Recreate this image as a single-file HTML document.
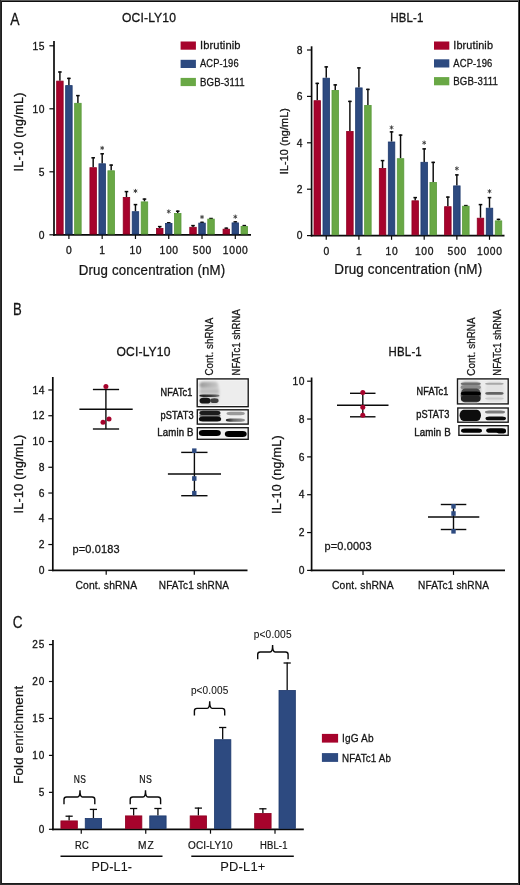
<!DOCTYPE html>
<html><head><meta charset="utf-8"><title>Figure</title>
<style>
html,body{margin:0;padding:0;background:#fff;}
body{width:520px;height:885px;overflow:hidden;position:relative;font-family:"Liberation Sans",sans-serif;}
svg{position:absolute;left:0;top:0;display:block;will-change:transform;}
text{stroke:#161616;vector-effect:non-scaling-stroke;}
</style></head>
<body>
<svg width="520" height="885" viewBox="0 0 520 885" font-family="Liberation Sans, sans-serif" fill="#141414">
<rect x="0" y="0" width="520" height="885" fill="#ffffff"/>
<text transform="translate(10.2,25) scale(0.82,1)" font-size="17" stroke-width="0.24" textLength="11.57" lengthAdjust="spacing">A</text>
<text transform="translate(122,22.2) scale(0.96,1)" font-size="12.6" stroke-width="0.3" textLength="56.21" lengthAdjust="spacing">OCI-LY10</text>
<text transform="translate(390.5,22.2) scale(0.9,1)" font-size="12.6" stroke-width="0.3" textLength="36.44" lengthAdjust="spacing">HBL-1</text>
<line x1="54" y1="41" x2="54" y2="235.65" stroke="#0a0a0a" stroke-width="1.7"/>
<line x1="53.15" y1="234.8" x2="251" y2="234.8" stroke="#0a0a0a" stroke-width="1.7"/>
<line x1="49.4" y1="234.8" x2="54" y2="234.8" stroke="#0a0a0a" stroke-width="1.2"/>
<text transform="translate(45.3,238.5)" font-size="10.3" stroke-width="0.3" text-anchor="end" letter-spacing="0.7">0</text>
<line x1="49.4" y1="171.8" x2="54" y2="171.8" stroke="#0a0a0a" stroke-width="1.2"/>
<text transform="translate(45.3,175.5)" font-size="10.3" stroke-width="0.3" text-anchor="end" letter-spacing="0.7">5</text>
<line x1="49.4" y1="108.8" x2="54" y2="108.8" stroke="#0a0a0a" stroke-width="1.2"/>
<text transform="translate(45.3,112.5)" font-size="10.3" stroke-width="0.3" text-anchor="end" letter-spacing="0.7">10</text>
<line x1="49.4" y1="45.8" x2="54" y2="45.8" stroke="#0a0a0a" stroke-width="1.2"/>
<text transform="translate(45.3,49.5)" font-size="10.3" stroke-width="0.3" text-anchor="end" letter-spacing="0.7">15</text>
<line x1="68.9" y1="234.8" x2="68.9" y2="239" stroke="#0a0a0a" stroke-width="1.2"/>
<text transform="translate(69.25,254.3)" font-size="10.3" stroke-width="0.3" text-anchor="middle" letter-spacing="0.7">0</text>
<line x1="102.18" y1="234.8" x2="102.18" y2="239" stroke="#0a0a0a" stroke-width="1.2"/>
<text transform="translate(102.53,254.3)" font-size="10.3" stroke-width="0.3" text-anchor="middle" letter-spacing="0.7">1</text>
<line x1="135.46" y1="234.8" x2="135.46" y2="239" stroke="#0a0a0a" stroke-width="1.2"/>
<text transform="translate(135.81,254.3)" font-size="10.3" stroke-width="0.3" text-anchor="middle" letter-spacing="0.7">10</text>
<line x1="168.74" y1="234.8" x2="168.74" y2="239" stroke="#0a0a0a" stroke-width="1.2"/>
<text transform="translate(169.09,254.3)" font-size="10.3" stroke-width="0.3" text-anchor="middle" letter-spacing="0.7">100</text>
<line x1="202.02" y1="234.8" x2="202.02" y2="239" stroke="#0a0a0a" stroke-width="1.2"/>
<text transform="translate(202.37,254.3)" font-size="10.3" stroke-width="0.3" text-anchor="middle" letter-spacing="0.7">500</text>
<line x1="235.3" y1="234.8" x2="235.3" y2="239" stroke="#0a0a0a" stroke-width="1.2"/>
<text transform="translate(235.65,254.3)" font-size="10.3" stroke-width="0.3" text-anchor="middle" letter-spacing="0.7">1000</text>
<line x1="59.9" y1="80.7" x2="59.9" y2="71.4" stroke="#0a0a0a" stroke-width="1.45"/>
<line x1="58.1" y1="72" x2="61.7" y2="72" stroke="#0a0a0a" stroke-width="1.5"/>
<rect x="56.65" y="81.1" width="6.5" height="152.9" fill="#A6032C" stroke="#8e0022" stroke-width="0.8"/>
<line x1="68.9" y1="85.2" x2="68.9" y2="77.8" stroke="#0a0a0a" stroke-width="1.45"/>
<line x1="67.1" y1="78.4" x2="70.7" y2="78.4" stroke="#0a0a0a" stroke-width="1.5"/>
<rect x="65.65" y="85.6" width="6.5" height="148.4" fill="#2D4A80" stroke="#1d386c" stroke-width="0.8"/>
<line x1="77.9" y1="102.9" x2="77.9" y2="95" stroke="#0a0a0a" stroke-width="1.45"/>
<line x1="76.1" y1="95.6" x2="79.7" y2="95.6" stroke="#0a0a0a" stroke-width="1.5"/>
<rect x="74.65" y="103.3" width="6.5" height="130.7" fill="#69A845" stroke="#58993a" stroke-width="0.8"/>
<line x1="93.18" y1="167.3" x2="93.18" y2="157.2" stroke="#0a0a0a" stroke-width="1.45"/>
<line x1="91.38" y1="157.8" x2="94.98" y2="157.8" stroke="#0a0a0a" stroke-width="1.5"/>
<rect x="89.93" y="167.7" width="6.5" height="66.3" fill="#A6032C" stroke="#8e0022" stroke-width="0.8"/>
<line x1="102.18" y1="163.4" x2="102.18" y2="153.2" stroke="#0a0a0a" stroke-width="1.45"/>
<line x1="100.38" y1="153.8" x2="103.98" y2="153.8" stroke="#0a0a0a" stroke-width="1.5"/>
<rect x="98.93" y="163.8" width="6.5" height="70.2" fill="#2D4A80" stroke="#1d386c" stroke-width="0.8"/>
<line x1="111.18" y1="170.4" x2="111.18" y2="164.5" stroke="#0a0a0a" stroke-width="1.45"/>
<line x1="109.38" y1="165.1" x2="112.98" y2="165.1" stroke="#0a0a0a" stroke-width="1.5"/>
<rect x="107.93" y="170.8" width="6.5" height="63.2" fill="#69A845" stroke="#58993a" stroke-width="0.8"/>
<g stroke="#3a3a3a" stroke-width="0.9" stroke-linecap="round"><line x1="102.18" y1="146.3" x2="102.18" y2="149.7"/><line x1="100.68" y1="147.15" x2="103.68" y2="148.85"/><line x1="100.68" y1="148.85" x2="103.68" y2="147.15"/></g>
<line x1="126.46" y1="197" x2="126.46" y2="191" stroke="#0a0a0a" stroke-width="1.45"/>
<line x1="124.66" y1="191.6" x2="128.26" y2="191.6" stroke="#0a0a0a" stroke-width="1.5"/>
<rect x="123.21" y="197.4" width="6.5" height="36.6" fill="#A6032C" stroke="#8e0022" stroke-width="0.8"/>
<line x1="135.46" y1="211.3" x2="135.46" y2="204" stroke="#0a0a0a" stroke-width="1.45"/>
<line x1="133.66" y1="204.6" x2="137.26" y2="204.6" stroke="#0a0a0a" stroke-width="1.5"/>
<rect x="132.21" y="211.7" width="6.5" height="22.3" fill="#2D4A80" stroke="#1d386c" stroke-width="0.8"/>
<line x1="144.46" y1="201.5" x2="144.46" y2="198.5" stroke="#0a0a0a" stroke-width="1.45"/>
<line x1="142.66" y1="199.1" x2="146.26" y2="199.1" stroke="#0a0a0a" stroke-width="1.5"/>
<rect x="141.21" y="201.9" width="6.5" height="32.1" fill="#69A845" stroke="#58993a" stroke-width="0.8"/>
<g stroke="#3a3a3a" stroke-width="0.9" stroke-linecap="round"><line x1="135.46" y1="189.3" x2="135.46" y2="192.7"/><line x1="133.96" y1="190.15" x2="136.96" y2="191.85"/><line x1="133.96" y1="191.85" x2="136.96" y2="190.15"/></g>
<line x1="159.74" y1="228" x2="159.74" y2="226" stroke="#0a0a0a" stroke-width="1.45"/>
<line x1="157.94" y1="226.6" x2="161.54" y2="226.6" stroke="#0a0a0a" stroke-width="1.5"/>
<rect x="156.49" y="228.4" width="6.5" height="5.6" fill="#A6032C" stroke="#8e0022" stroke-width="0.8"/>
<line x1="168.74" y1="223" x2="168.74" y2="222.2" stroke="#0a0a0a" stroke-width="1.45"/>
<line x1="166.94" y1="222.8" x2="170.54" y2="222.8" stroke="#0a0a0a" stroke-width="1.5"/>
<rect x="165.49" y="223.4" width="6.5" height="10.6" fill="#2D4A80" stroke="#1d386c" stroke-width="0.8"/>
<line x1="177.74" y1="213" x2="177.74" y2="210.6" stroke="#0a0a0a" stroke-width="1.45"/>
<line x1="175.94" y1="211.2" x2="179.54" y2="211.2" stroke="#0a0a0a" stroke-width="1.5"/>
<rect x="174.49" y="213.4" width="6.5" height="20.6" fill="#69A845" stroke="#58993a" stroke-width="0.8"/>
<g stroke="#3a3a3a" stroke-width="0.9" stroke-linecap="round"><line x1="168.74" y1="209.8" x2="168.74" y2="213.2"/><line x1="167.24" y1="210.65" x2="170.24" y2="212.35"/><line x1="167.24" y1="212.35" x2="170.24" y2="210.65"/></g>
<line x1="193.02" y1="226.9" x2="193.02" y2="225" stroke="#0a0a0a" stroke-width="1.45"/>
<line x1="191.22" y1="225.6" x2="194.82" y2="225.6" stroke="#0a0a0a" stroke-width="1.5"/>
<rect x="189.77" y="227.3" width="6.5" height="6.7" fill="#A6032C" stroke="#8e0022" stroke-width="0.8"/>
<line x1="202.02" y1="222.7" x2="202.02" y2="221.8" stroke="#0a0a0a" stroke-width="1.45"/>
<line x1="200.22" y1="222.4" x2="203.82" y2="222.4" stroke="#0a0a0a" stroke-width="1.5"/>
<rect x="198.77" y="223.1" width="6.5" height="10.9" fill="#2D4A80" stroke="#1d386c" stroke-width="0.8"/>
<line x1="211.02" y1="218.7" x2="211.02" y2="217.9" stroke="#0a0a0a" stroke-width="1.45"/>
<line x1="209.22" y1="218.5" x2="212.82" y2="218.5" stroke="#0a0a0a" stroke-width="1.5"/>
<rect x="207.77" y="219.1" width="6.5" height="14.9" fill="#69A845" stroke="#58993a" stroke-width="0.8"/>
<g stroke="#3a3a3a" stroke-width="0.9" stroke-linecap="round"><line x1="202.02" y1="215.3" x2="202.02" y2="218.7"/><line x1="200.52" y1="216.15" x2="203.52" y2="217.85"/><line x1="200.52" y1="217.85" x2="203.52" y2="216.15"/></g>
<line x1="226.3" y1="228.8" x2="226.3" y2="227.6" stroke="#0a0a0a" stroke-width="1.45"/>
<line x1="224.5" y1="228.2" x2="228.1" y2="228.2" stroke="#0a0a0a" stroke-width="1.5"/>
<rect x="223.05" y="229.2" width="6.5" height="4.8" fill="#A6032C" stroke="#8e0022" stroke-width="0.8"/>
<line x1="235.3" y1="222.5" x2="235.3" y2="221.3" stroke="#0a0a0a" stroke-width="1.45"/>
<line x1="233.5" y1="221.9" x2="237.1" y2="221.9" stroke="#0a0a0a" stroke-width="1.5"/>
<rect x="232.05" y="222.9" width="6.5" height="11.1" fill="#2D4A80" stroke="#1d386c" stroke-width="0.8"/>
<line x1="244.3" y1="226" x2="244.3" y2="225" stroke="#0a0a0a" stroke-width="1.45"/>
<line x1="242.5" y1="225.6" x2="246.1" y2="225.6" stroke="#0a0a0a" stroke-width="1.5"/>
<rect x="241.05" y="226.4" width="6.5" height="7.6" fill="#69A845" stroke="#58993a" stroke-width="0.8"/>
<g stroke="#3a3a3a" stroke-width="0.9" stroke-linecap="round"><line x1="235.3" y1="215" x2="235.3" y2="218.4"/><line x1="233.8" y1="215.85" x2="236.8" y2="217.55"/><line x1="233.8" y1="217.55" x2="236.8" y2="215.85"/></g>
<line x1="311.6" y1="46.3" x2="311.6" y2="236.45" stroke="#0a0a0a" stroke-width="1.7"/>
<line x1="310.75" y1="235.6" x2="504.5" y2="235.6" stroke="#0a0a0a" stroke-width="1.7"/>
<line x1="307" y1="235.6" x2="311.6" y2="235.6" stroke="#0a0a0a" stroke-width="1.2"/>
<text transform="translate(303.3,239.3)" font-size="10.3" stroke-width="0.3" text-anchor="end" letter-spacing="0.7">0</text>
<line x1="307" y1="189.2" x2="311.6" y2="189.2" stroke="#0a0a0a" stroke-width="1.2"/>
<text transform="translate(303.3,192.9)" font-size="10.3" stroke-width="0.3" text-anchor="end" letter-spacing="0.7">2</text>
<line x1="307" y1="142.8" x2="311.6" y2="142.8" stroke="#0a0a0a" stroke-width="1.2"/>
<text transform="translate(303.3,146.5)" font-size="10.3" stroke-width="0.3" text-anchor="end" letter-spacing="0.7">4</text>
<line x1="307" y1="96.4" x2="311.6" y2="96.4" stroke="#0a0a0a" stroke-width="1.2"/>
<text transform="translate(303.3,100.1)" font-size="10.3" stroke-width="0.3" text-anchor="end" letter-spacing="0.7">6</text>
<line x1="307" y1="50" x2="311.6" y2="50" stroke="#0a0a0a" stroke-width="1.2"/>
<text transform="translate(303.3,53.7)" font-size="10.3" stroke-width="0.3" text-anchor="end" letter-spacing="0.7">8</text>
<line x1="326.25" y1="235.6" x2="326.25" y2="239.8" stroke="#0a0a0a" stroke-width="1.2"/>
<text transform="translate(326.6,255.1)" font-size="10.3" stroke-width="0.3" text-anchor="middle" letter-spacing="0.7">0</text>
<line x1="358.9" y1="235.6" x2="358.9" y2="239.8" stroke="#0a0a0a" stroke-width="1.2"/>
<text transform="translate(359.25,255.1)" font-size="10.3" stroke-width="0.3" text-anchor="middle" letter-spacing="0.7">1</text>
<line x1="391.55" y1="235.6" x2="391.55" y2="239.8" stroke="#0a0a0a" stroke-width="1.2"/>
<text transform="translate(391.9,255.1)" font-size="10.3" stroke-width="0.3" text-anchor="middle" letter-spacing="0.7">10</text>
<line x1="424.2" y1="235.6" x2="424.2" y2="239.8" stroke="#0a0a0a" stroke-width="1.2"/>
<text transform="translate(424.55,255.1)" font-size="10.3" stroke-width="0.3" text-anchor="middle" letter-spacing="0.7">100</text>
<line x1="456.85" y1="235.6" x2="456.85" y2="239.8" stroke="#0a0a0a" stroke-width="1.2"/>
<text transform="translate(457.2,255.1)" font-size="10.3" stroke-width="0.3" text-anchor="middle" letter-spacing="0.7">500</text>
<line x1="489.5" y1="235.6" x2="489.5" y2="239.8" stroke="#0a0a0a" stroke-width="1.2"/>
<text transform="translate(489.85,255.1)" font-size="10.3" stroke-width="0.3" text-anchor="middle" letter-spacing="0.7">1000</text>
<line x1="317.25" y1="100.3" x2="317.25" y2="82.8" stroke="#0a0a0a" stroke-width="1.45"/>
<line x1="315.45" y1="83.4" x2="319.05" y2="83.4" stroke="#0a0a0a" stroke-width="1.5"/>
<rect x="314" y="100.7" width="6.5" height="134.1" fill="#A6032C" stroke="#8e0022" stroke-width="0.8"/>
<line x1="326.25" y1="77.8" x2="326.25" y2="66.3" stroke="#0a0a0a" stroke-width="1.45"/>
<line x1="324.45" y1="66.9" x2="328.05" y2="66.9" stroke="#0a0a0a" stroke-width="1.5"/>
<rect x="323" y="78.2" width="6.5" height="156.6" fill="#2D4A80" stroke="#1d386c" stroke-width="0.8"/>
<line x1="335.25" y1="90" x2="335.25" y2="84.3" stroke="#0a0a0a" stroke-width="1.45"/>
<line x1="333.45" y1="84.9" x2="337.05" y2="84.9" stroke="#0a0a0a" stroke-width="1.5"/>
<rect x="332" y="90.4" width="6.5" height="144.4" fill="#69A845" stroke="#58993a" stroke-width="0.8"/>
<line x1="349.9" y1="131" x2="349.9" y2="100.8" stroke="#0a0a0a" stroke-width="1.45"/>
<line x1="348.1" y1="101.4" x2="351.7" y2="101.4" stroke="#0a0a0a" stroke-width="1.5"/>
<rect x="346.65" y="131.4" width="6.5" height="103.4" fill="#A6032C" stroke="#8e0022" stroke-width="0.8"/>
<line x1="358.9" y1="87.5" x2="358.9" y2="67.3" stroke="#0a0a0a" stroke-width="1.45"/>
<line x1="357.1" y1="67.9" x2="360.7" y2="67.9" stroke="#0a0a0a" stroke-width="1.5"/>
<rect x="355.65" y="87.9" width="6.5" height="146.9" fill="#2D4A80" stroke="#1d386c" stroke-width="0.8"/>
<line x1="367.9" y1="105" x2="367.9" y2="88.8" stroke="#0a0a0a" stroke-width="1.45"/>
<line x1="366.1" y1="89.4" x2="369.7" y2="89.4" stroke="#0a0a0a" stroke-width="1.5"/>
<rect x="364.65" y="105.4" width="6.5" height="129.4" fill="#69A845" stroke="#58993a" stroke-width="0.8"/>
<line x1="382.55" y1="168" x2="382.55" y2="160" stroke="#0a0a0a" stroke-width="1.45"/>
<line x1="380.75" y1="160.6" x2="384.35" y2="160.6" stroke="#0a0a0a" stroke-width="1.5"/>
<rect x="379.3" y="168.4" width="6.5" height="66.4" fill="#A6032C" stroke="#8e0022" stroke-width="0.8"/>
<line x1="391.55" y1="141.6" x2="391.55" y2="131.3" stroke="#0a0a0a" stroke-width="1.45"/>
<line x1="389.75" y1="131.9" x2="393.35" y2="131.9" stroke="#0a0a0a" stroke-width="1.5"/>
<rect x="388.3" y="142" width="6.5" height="92.8" fill="#2D4A80" stroke="#1d386c" stroke-width="0.8"/>
<line x1="400.55" y1="158.3" x2="400.55" y2="134.5" stroke="#0a0a0a" stroke-width="1.45"/>
<line x1="398.75" y1="135.1" x2="402.35" y2="135.1" stroke="#0a0a0a" stroke-width="1.5"/>
<rect x="397.3" y="158.7" width="6.5" height="76.1" fill="#69A845" stroke="#58993a" stroke-width="0.8"/>
<g stroke="#3a3a3a" stroke-width="0.9" stroke-linecap="round"><line x1="391.55" y1="125.8" x2="391.55" y2="129.2"/><line x1="390.05" y1="126.65" x2="393.05" y2="128.35"/><line x1="390.05" y1="128.35" x2="393.05" y2="126.65"/></g>
<line x1="415.2" y1="200.4" x2="415.2" y2="197" stroke="#0a0a0a" stroke-width="1.45"/>
<line x1="413.4" y1="197.6" x2="417" y2="197.6" stroke="#0a0a0a" stroke-width="1.5"/>
<rect x="411.95" y="200.8" width="6.5" height="34" fill="#A6032C" stroke="#8e0022" stroke-width="0.8"/>
<line x1="424.2" y1="161.9" x2="424.2" y2="148.3" stroke="#0a0a0a" stroke-width="1.45"/>
<line x1="422.4" y1="148.9" x2="426" y2="148.9" stroke="#0a0a0a" stroke-width="1.5"/>
<rect x="420.95" y="162.3" width="6.5" height="72.5" fill="#2D4A80" stroke="#1d386c" stroke-width="0.8"/>
<line x1="433.2" y1="182" x2="433.2" y2="161.8" stroke="#0a0a0a" stroke-width="1.45"/>
<line x1="431.4" y1="162.4" x2="435" y2="162.4" stroke="#0a0a0a" stroke-width="1.5"/>
<rect x="429.95" y="182.4" width="6.5" height="52.4" fill="#69A845" stroke="#58993a" stroke-width="0.8"/>
<g stroke="#3a3a3a" stroke-width="0.9" stroke-linecap="round"><line x1="424.2" y1="141" x2="424.2" y2="144.4"/><line x1="422.7" y1="141.85" x2="425.7" y2="143.55"/><line x1="422.7" y1="143.55" x2="425.7" y2="141.85"/></g>
<line x1="447.85" y1="206.3" x2="447.85" y2="196.5" stroke="#0a0a0a" stroke-width="1.45"/>
<line x1="446.05" y1="197.1" x2="449.65" y2="197.1" stroke="#0a0a0a" stroke-width="1.5"/>
<rect x="444.6" y="206.7" width="6.5" height="28.1" fill="#A6032C" stroke="#8e0022" stroke-width="0.8"/>
<line x1="456.85" y1="185.5" x2="456.85" y2="174.3" stroke="#0a0a0a" stroke-width="1.45"/>
<line x1="455.05" y1="174.9" x2="458.65" y2="174.9" stroke="#0a0a0a" stroke-width="1.5"/>
<rect x="453.6" y="185.9" width="6.5" height="48.9" fill="#2D4A80" stroke="#1d386c" stroke-width="0.8"/>
<line x1="465.85" y1="205.8" x2="465.85" y2="205" stroke="#0a0a0a" stroke-width="1.45"/>
<line x1="464.05" y1="205.6" x2="467.65" y2="205.6" stroke="#0a0a0a" stroke-width="1.5"/>
<rect x="462.6" y="206.2" width="6.5" height="28.6" fill="#69A845" stroke="#58993a" stroke-width="0.8"/>
<g stroke="#3a3a3a" stroke-width="0.9" stroke-linecap="round"><line x1="456.85" y1="166.8" x2="456.85" y2="170.2"/><line x1="455.35" y1="167.65" x2="458.35" y2="169.35"/><line x1="455.35" y1="169.35" x2="458.35" y2="167.65"/></g>
<line x1="480.5" y1="217.8" x2="480.5" y2="204" stroke="#0a0a0a" stroke-width="1.45"/>
<line x1="478.7" y1="204.6" x2="482.3" y2="204.6" stroke="#0a0a0a" stroke-width="1.5"/>
<rect x="477.25" y="218.2" width="6.5" height="16.6" fill="#A6032C" stroke="#8e0022" stroke-width="0.8"/>
<line x1="489.5" y1="207.8" x2="489.5" y2="197" stroke="#0a0a0a" stroke-width="1.45"/>
<line x1="487.7" y1="197.6" x2="491.3" y2="197.6" stroke="#0a0a0a" stroke-width="1.5"/>
<rect x="486.25" y="208.2" width="6.5" height="26.6" fill="#2D4A80" stroke="#1d386c" stroke-width="0.8"/>
<line x1="498.5" y1="220.5" x2="498.5" y2="218.8" stroke="#0a0a0a" stroke-width="1.45"/>
<line x1="496.7" y1="219.4" x2="500.3" y2="219.4" stroke="#0a0a0a" stroke-width="1.5"/>
<rect x="495.25" y="220.9" width="6.5" height="13.9" fill="#69A845" stroke="#58993a" stroke-width="0.8"/>
<g stroke="#3a3a3a" stroke-width="0.9" stroke-linecap="round"><line x1="489.5" y1="189.6" x2="489.5" y2="193"/><line x1="488" y1="190.45" x2="491" y2="192.15"/><line x1="488" y1="192.15" x2="491" y2="190.45"/></g>
<rect x="180.6" y="41.5" width="15.3" height="8.2" fill="#A6032C"/>
<text transform="translate(200,49.1) scale(0.97,1)" font-size="11.5" stroke-width="0.28" textLength="41.75" lengthAdjust="spacing">Ibrutinib</text>
<rect x="180.6" y="59.8" width="15.3" height="8.2" fill="#2D4A80"/>
<text transform="translate(200,67.4) scale(0.81,1)" font-size="11.5" stroke-width="0.28" textLength="47.62" lengthAdjust="spacing">ACP-196</text>
<rect x="180.6" y="77.9" width="15.3" height="8.2" fill="#69A845"/>
<text transform="translate(200,85.5) scale(0.84,1)" font-size="11.5" stroke-width="0.28" textLength="53.05" lengthAdjust="spacing">BGB-3111</text>
<rect x="434" y="41.5" width="15.3" height="8.2" fill="#A6032C"/>
<text transform="translate(453.3,49.1) scale(0.95,1)" font-size="11.5" stroke-width="0.28" textLength="41.75" lengthAdjust="spacing">Ibrutinib</text>
<rect x="434" y="59.3" width="15.3" height="8.2" fill="#2D4A80"/>
<text transform="translate(453.3,66.9) scale(0.82,1)" font-size="11.5" stroke-width="0.28" textLength="47.62" lengthAdjust="spacing">ACP-196</text>
<rect x="434" y="77.1" width="15.3" height="8.2" fill="#69A845"/>
<text transform="translate(453.3,84.7) scale(0.84,1)" font-size="11.5" stroke-width="0.28" textLength="53.05" lengthAdjust="spacing">BGB-3111</text>
<text transform="translate(78.8,274.5) scale(0.95,1)" font-size="14" stroke-width="0.24" textLength="154.03" lengthAdjust="spacing">Drug concentration (nM)</text>
<text transform="translate(334.3,274.3) scale(0.96,1)" font-size="14" stroke-width="0.24" textLength="154.03" lengthAdjust="spacing">Drug concentration (nM)</text>
<text transform="translate(22.8,171.6) rotate(-90)" font-size="12.5" stroke-width="0.3" textLength="79" lengthAdjust="spacing">IL-10 (ng/mL)</text>
<text transform="translate(288.2,174.3) rotate(-90)" font-size="10.8" stroke-width="0.28" textLength="66.2" lengthAdjust="spacing">IL-10 (ng/mL)</text>
<text transform="translate(12.9,315.3) scale(0.78,1)" font-size="16.8" stroke-width="0.24" textLength="11.03" lengthAdjust="spacing">B</text>
<text transform="translate(116.5,356.3) scale(0.96,1)" font-size="12.6" stroke-width="0.3" textLength="56.21" lengthAdjust="spacing">OCI-LY10</text>
<text transform="translate(388.6,356.1) scale(0.91,1)" font-size="12.6" stroke-width="0.3" textLength="36.44" lengthAdjust="spacing">HBL-1</text>
<line x1="52.8" y1="377" x2="52.8" y2="571.15" stroke="#0a0a0a" stroke-width="1.7"/>
<line x1="51.95" y1="570.3" x2="247.5" y2="570.3" stroke="#0a0a0a" stroke-width="1.7"/>
<line x1="48.3" y1="570.3" x2="52.8" y2="570.3" stroke="#0a0a0a" stroke-width="1.2"/>
<text transform="translate(45.3,574)" font-size="10.3" stroke-width="0.3" text-anchor="end" letter-spacing="0.7">0</text>
<line x1="48.3" y1="544.54" x2="52.8" y2="544.54" stroke="#0a0a0a" stroke-width="1.2"/>
<text transform="translate(45.3,548.24)" font-size="10.3" stroke-width="0.3" text-anchor="end" letter-spacing="0.7">2</text>
<line x1="48.3" y1="518.78" x2="52.8" y2="518.78" stroke="#0a0a0a" stroke-width="1.2"/>
<text transform="translate(45.3,522.48)" font-size="10.3" stroke-width="0.3" text-anchor="end" letter-spacing="0.7">4</text>
<line x1="48.3" y1="493.02" x2="52.8" y2="493.02" stroke="#0a0a0a" stroke-width="1.2"/>
<text transform="translate(45.3,496.72)" font-size="10.3" stroke-width="0.3" text-anchor="end" letter-spacing="0.7">6</text>
<line x1="48.3" y1="467.26" x2="52.8" y2="467.26" stroke="#0a0a0a" stroke-width="1.2"/>
<text transform="translate(45.3,470.96)" font-size="10.3" stroke-width="0.3" text-anchor="end" letter-spacing="0.7">8</text>
<line x1="48.3" y1="441.5" x2="52.8" y2="441.5" stroke="#0a0a0a" stroke-width="1.2"/>
<text transform="translate(45.3,445.2)" font-size="10.3" stroke-width="0.3" text-anchor="end" letter-spacing="0.7">10</text>
<line x1="48.3" y1="415.74" x2="52.8" y2="415.74" stroke="#0a0a0a" stroke-width="1.2"/>
<text transform="translate(45.3,419.44)" font-size="10.3" stroke-width="0.3" text-anchor="end" letter-spacing="0.7">12</text>
<line x1="48.3" y1="389.98" x2="52.8" y2="389.98" stroke="#0a0a0a" stroke-width="1.2"/>
<text transform="translate(45.3,393.68)" font-size="10.3" stroke-width="0.3" text-anchor="end" letter-spacing="0.7">14</text>
<line x1="106.2" y1="570.3" x2="106.2" y2="574.8" stroke="#0a0a0a" stroke-width="1.2"/>
<line x1="194.3" y1="570.3" x2="194.3" y2="574.8" stroke="#0a0a0a" stroke-width="1.2"/>
<line x1="105.9" y1="389.5" x2="105.9" y2="429" stroke="#0a0a0a" stroke-width="1.4"/>
<line x1="92.9" y1="389.5" x2="119.1" y2="389.5" stroke="#0a0a0a" stroke-width="1.4"/>
<line x1="92.9" y1="429" x2="119.1" y2="429" stroke="#0a0a0a" stroke-width="1.4"/>
<line x1="79.4" y1="409.2" x2="132.7" y2="409.2" stroke="#0a0a0a" stroke-width="1.6"/>
<circle cx="105.9" cy="386.6" r="2.5" fill="#A6032C"/>
<circle cx="103" cy="422.2" r="2.5" fill="#A6032C"/>
<circle cx="109" cy="419" r="2.5" fill="#A6032C"/>
<line x1="194.4" y1="452.4" x2="194.4" y2="495.7" stroke="#0a0a0a" stroke-width="1.4"/>
<line x1="181.2" y1="452.4" x2="207.5" y2="452.4" stroke="#0a0a0a" stroke-width="1.4"/>
<line x1="181.2" y1="495.7" x2="207.5" y2="495.7" stroke="#0a0a0a" stroke-width="1.4"/>
<line x1="167.9" y1="474" x2="221" y2="474" stroke="#0a0a0a" stroke-width="1.6"/>
<rect x="192.1" y="448.4" width="4.4" height="4.6" fill="#2D4A80"/>
<rect x="192.1" y="476.2" width="4.4" height="4.6" fill="#2D4A80"/>
<rect x="192.1" y="490.9" width="4.4" height="4.6" fill="#2D4A80"/>
<line x1="311.6" y1="377.5" x2="311.6" y2="571.25" stroke="#0a0a0a" stroke-width="1.7"/>
<line x1="310.75" y1="570.4" x2="505" y2="570.4" stroke="#0a0a0a" stroke-width="1.7"/>
<line x1="307.1" y1="570.4" x2="311.6" y2="570.4" stroke="#0a0a0a" stroke-width="1.2"/>
<text transform="translate(305.3,574.1)" font-size="10.3" stroke-width="0.3" text-anchor="end" letter-spacing="0.7">0</text>
<line x1="307.1" y1="532.56" x2="311.6" y2="532.56" stroke="#0a0a0a" stroke-width="1.2"/>
<text transform="translate(305.3,536.26)" font-size="10.3" stroke-width="0.3" text-anchor="end" letter-spacing="0.7">2</text>
<line x1="307.1" y1="494.72" x2="311.6" y2="494.72" stroke="#0a0a0a" stroke-width="1.2"/>
<text transform="translate(305.3,498.42)" font-size="10.3" stroke-width="0.3" text-anchor="end" letter-spacing="0.7">4</text>
<line x1="307.1" y1="456.88" x2="311.6" y2="456.88" stroke="#0a0a0a" stroke-width="1.2"/>
<text transform="translate(305.3,460.58)" font-size="10.3" stroke-width="0.3" text-anchor="end" letter-spacing="0.7">6</text>
<line x1="307.1" y1="419.04" x2="311.6" y2="419.04" stroke="#0a0a0a" stroke-width="1.2"/>
<text transform="translate(305.3,422.74)" font-size="10.3" stroke-width="0.3" text-anchor="end" letter-spacing="0.7">8</text>
<line x1="307.1" y1="381.2" x2="311.6" y2="381.2" stroke="#0a0a0a" stroke-width="1.2"/>
<text transform="translate(305.3,384.9)" font-size="10.3" stroke-width="0.3" text-anchor="end" letter-spacing="0.7">10</text>
<line x1="363" y1="570.4" x2="363" y2="574.9" stroke="#0a0a0a" stroke-width="1.2"/>
<line x1="453.5" y1="570.4" x2="453.5" y2="574.9" stroke="#0a0a0a" stroke-width="1.2"/>
<line x1="362.8" y1="393.3" x2="362.8" y2="416.8" stroke="#0a0a0a" stroke-width="1.4"/>
<line x1="350" y1="393.3" x2="375.5" y2="393.3" stroke="#0a0a0a" stroke-width="1.4"/>
<line x1="350" y1="416.8" x2="375.5" y2="416.8" stroke="#0a0a0a" stroke-width="1.4"/>
<line x1="337" y1="405.3" x2="388.5" y2="405.3" stroke="#0a0a0a" stroke-width="1.6"/>
<circle cx="362.8" cy="392.6" r="2.5" fill="#A6032C"/>
<circle cx="362.8" cy="407.3" r="2.5" fill="#A6032C"/>
<circle cx="362.8" cy="415.3" r="2.5" fill="#A6032C"/>
<line x1="453.5" y1="504.5" x2="453.5" y2="529.5" stroke="#0a0a0a" stroke-width="1.4"/>
<line x1="440.8" y1="504.5" x2="466.3" y2="504.5" stroke="#0a0a0a" stroke-width="1.4"/>
<line x1="440.8" y1="529.5" x2="466.3" y2="529.5" stroke="#0a0a0a" stroke-width="1.4"/>
<line x1="428" y1="517" x2="479.3" y2="517" stroke="#0a0a0a" stroke-width="1.6"/>
<rect x="451.3" y="504" width="4.4" height="4.6" fill="#2D4A80"/>
<rect x="451.3" y="511.2" width="4.4" height="4.6" fill="#2D4A80"/>
<rect x="451.3" y="529" width="4.4" height="4.6" fill="#2D4A80"/>
<text transform="translate(22.6,513.6) rotate(-90)" font-size="12.5" stroke-width="0.3" textLength="78.9" lengthAdjust="spacing">IL-10 (ng/mL)</text>
<text transform="translate(280.6,513.9) rotate(-90)" font-size="12.5" stroke-width="0.3" textLength="78.6" lengthAdjust="spacing">IL-10 (ng/mL)</text>
<text transform="translate(72.5,552.8) scale(0.98,1)" font-size="11.2" stroke-width="0.28" textLength="47.99" lengthAdjust="spacing">p=0.0183</text>
<text transform="translate(324.5,549.9) scale(0.98,1)" font-size="11.2" stroke-width="0.28" textLength="47.99" lengthAdjust="spacing">p=0.0003</text>
<text transform="translate(75.5,589) scale(0.94,1)" font-size="11" stroke-width="0.28" textLength="65.5" lengthAdjust="spacing">Cont. shRNA</text>
<text transform="translate(158.8,589) scale(0.91,1)" font-size="11" stroke-width="0.28" textLength="77.14" lengthAdjust="spacing">NFATc1 shRNA</text>
<text transform="translate(332,589) scale(0.94,1)" font-size="11" stroke-width="0.28" textLength="65.5" lengthAdjust="spacing">Cont. shRNA</text>
<text transform="translate(418,589) scale(0.92,1)" font-size="11" stroke-width="0.28" textLength="77.14" lengthAdjust="spacing">NFATc1 shRNA</text>
<line x1="52.95" y1="640" x2="52.95" y2="830.15" stroke="#0a0a0a" stroke-width="1.7"/>
<line x1="52.1" y1="829.3" x2="303.8" y2="829.3" stroke="#0a0a0a" stroke-width="1.7"/>
<line x1="48.95" y1="829.3" x2="52.95" y2="829.3" stroke="#0a0a0a" stroke-width="1.2"/>
<text transform="translate(45,832.8)" font-size="10" stroke-width="0.3" text-anchor="end" letter-spacing="0.8">0</text>
<line x1="48.95" y1="792.35" x2="52.95" y2="792.35" stroke="#0a0a0a" stroke-width="1.2"/>
<text transform="translate(45,795.85)" font-size="10" stroke-width="0.3" text-anchor="end" letter-spacing="0.8">5</text>
<line x1="48.95" y1="755.4" x2="52.95" y2="755.4" stroke="#0a0a0a" stroke-width="1.2"/>
<text transform="translate(45,758.9)" font-size="10" stroke-width="0.3" text-anchor="end" letter-spacing="0.8">10</text>
<line x1="48.95" y1="718.45" x2="52.95" y2="718.45" stroke="#0a0a0a" stroke-width="1.2"/>
<text transform="translate(45,721.95)" font-size="10" stroke-width="0.3" text-anchor="end" letter-spacing="0.8">15</text>
<line x1="48.95" y1="681.5" x2="52.95" y2="681.5" stroke="#0a0a0a" stroke-width="1.2"/>
<text transform="translate(45,685)" font-size="10" stroke-width="0.3" text-anchor="end" letter-spacing="0.8">20</text>
<line x1="48.95" y1="644.55" x2="52.95" y2="644.55" stroke="#0a0a0a" stroke-width="1.2"/>
<text transform="translate(45,648.05)" font-size="10" stroke-width="0.3" text-anchor="end" letter-spacing="0.8">25</text>
<line x1="81.25" y1="829.3" x2="81.25" y2="833.7" stroke="#0a0a0a" stroke-width="1.2"/>
<line x1="69.12" y1="820.5" x2="69.12" y2="815.7" stroke="#0a0a0a" stroke-width="1.3"/>
<line x1="65.53" y1="816.2" x2="72.72" y2="816.2" stroke="#0a0a0a" stroke-width="1.3"/>
<rect x="60.9" y="820.9" width="16.45" height="7.6" fill="#A6032C" stroke="#8e0022" stroke-width="0.8"/>
<line x1="93.42" y1="818" x2="93.42" y2="808.9" stroke="#0a0a0a" stroke-width="1.3"/>
<line x1="89.83" y1="809.4" x2="97.02" y2="809.4" stroke="#0a0a0a" stroke-width="1.3"/>
<rect x="85.25" y="818.4" width="16.35" height="10.1" fill="#2D4A80" stroke="#1d386c" stroke-width="0.8"/>
<text transform="translate(75,848.6) scale(0.92,1)" font-size="10.2" stroke-width="0.2" textLength="15.03" lengthAdjust="spacing">RC</text>
<line x1="145.75" y1="829.3" x2="145.75" y2="833.7" stroke="#0a0a0a" stroke-width="1.2"/>
<line x1="133.62" y1="815.5" x2="133.62" y2="808" stroke="#0a0a0a" stroke-width="1.3"/>
<line x1="130.03" y1="808.5" x2="137.22" y2="808.5" stroke="#0a0a0a" stroke-width="1.3"/>
<rect x="125.4" y="815.9" width="16.45" height="12.6" fill="#A6032C" stroke="#8e0022" stroke-width="0.8"/>
<line x1="157.93" y1="815.5" x2="157.93" y2="808" stroke="#0a0a0a" stroke-width="1.3"/>
<line x1="154.33" y1="808.5" x2="161.53" y2="808.5" stroke="#0a0a0a" stroke-width="1.3"/>
<rect x="149.75" y="815.9" width="16.35" height="12.6" fill="#2D4A80" stroke="#1d386c" stroke-width="0.8"/>
<text transform="translate(138,848.6)" font-size="10.2" stroke-width="0.2" textLength="15.8" lengthAdjust="spacing">MZ</text>
<line x1="210.5" y1="829.3" x2="210.5" y2="833.7" stroke="#0a0a0a" stroke-width="1.2"/>
<line x1="198.38" y1="815.5" x2="198.38" y2="807.6" stroke="#0a0a0a" stroke-width="1.3"/>
<line x1="194.78" y1="808.1" x2="201.97" y2="808.1" stroke="#0a0a0a" stroke-width="1.3"/>
<rect x="190.15" y="815.9" width="16.45" height="12.6" fill="#A6032C" stroke="#8e0022" stroke-width="0.8"/>
<line x1="222.68" y1="739.3" x2="222.68" y2="727" stroke="#0a0a0a" stroke-width="1.3"/>
<line x1="219.08" y1="727.5" x2="226.28" y2="727.5" stroke="#0a0a0a" stroke-width="1.3"/>
<rect x="214.5" y="739.7" width="16.35" height="88.8" fill="#2D4A80" stroke="#1d386c" stroke-width="0.8"/>
<text transform="translate(188,848.6) scale(0.98,1)" font-size="10.2" stroke-width="0.2" textLength="45.51" lengthAdjust="spacing">OCI-LY10</text>
<line x1="275" y1="829.3" x2="275" y2="833.7" stroke="#0a0a0a" stroke-width="1.2"/>
<line x1="262.88" y1="813" x2="262.88" y2="808.3" stroke="#0a0a0a" stroke-width="1.3"/>
<line x1="259.27" y1="808.8" x2="266.48" y2="808.8" stroke="#0a0a0a" stroke-width="1.3"/>
<rect x="254.65" y="813.4" width="16.45" height="15.1" fill="#A6032C" stroke="#8e0022" stroke-width="0.8"/>
<line x1="287.18" y1="690" x2="287.18" y2="662.5" stroke="#0a0a0a" stroke-width="1.3"/>
<line x1="283.57" y1="663" x2="290.78" y2="663" stroke="#0a0a0a" stroke-width="1.3"/>
<rect x="279" y="690.4" width="16.35" height="138.1" fill="#2D4A80" stroke="#1d386c" stroke-width="0.8"/>
<text transform="translate(260,848.6) scale(0.93,1)" font-size="10.2" stroke-width="0.2" textLength="29.5" lengthAdjust="spacing">HBL-1</text>
<line x1="60.5" y1="856.3" x2="162.5" y2="856.3" stroke="#0a0a0a" stroke-width="1.5"/>
<line x1="191.3" y1="856.3" x2="293.8" y2="856.3" stroke="#0a0a0a" stroke-width="1.5"/>
<text transform="translate(91.6,871) scale(0.92,1)" font-size="13.6" stroke-width="0.1" textLength="43.96" lengthAdjust="spacing">PD-L1-</text>
<text transform="translate(220.3,871) scale(0.95,1)" font-size="13.6" stroke-width="0.1" textLength="47.44" lengthAdjust="spacing">PD-L1+</text>
<path d="M64,804.3 L64,799.6 Q64,797 66.6,797 L77.5,797 Q80,797 80,790.2 Q80,797 82.5,797 L92.2,797 Q94.8,797 94.8,799.6 L94.8,804.3" fill="none" stroke="#0a0a0a" stroke-width="1.4"/>
<path d="M130.2,804.3 L130.2,799.6 Q130.2,797 132.8,797 L143,797 Q145.5,797 145.5,790.2 Q145.5,797 148,797 L158,797 Q160.6,797 160.6,799.6 L160.6,804.3" fill="none" stroke="#0a0a0a" stroke-width="1.4"/>
<path d="M194.4,715.5 L194.4,711 Q194.4,708.4 197,708.4 L207.2,708.4 Q209.7,708.4 209.7,701.3 Q209.7,708.4 212.2,708.4 L222.1,708.4 Q224.7,708.4 224.7,711 L224.7,715.5" fill="none" stroke="#0a0a0a" stroke-width="1.4"/>
<path d="M257.7,659.3 L257.7,654.6 Q257.7,652 260.3,652 L270.1,652 Q272.6,652 272.6,645.1 Q272.6,652 275.1,652 L285.5,652 Q288.1,652 288.1,654.6 L288.1,659.3" fill="none" stroke="#0a0a0a" stroke-width="1.4"/>
<text transform="translate(73.8,783.3) scale(0.83,1)" font-size="10.2" stroke-width="0.2" textLength="14.46" lengthAdjust="spacing">NS</text>
<text transform="translate(139.3,783.3) scale(0.86,1)" font-size="10.2" stroke-width="0.2" textLength="14.46" lengthAdjust="spacing">NS</text>
<text transform="translate(190.9,693.9) scale(0.93,1)" font-size="10.8" stroke-width="0.08" textLength="40.14" lengthAdjust="spacing">p&lt;0.005</text>
<text transform="translate(253.8,637.7) scale(0.94,1)" font-size="10.8" stroke-width="0.08" textLength="40.14" lengthAdjust="spacing">p&lt;0.005</text>
<rect x="321.9" y="733.9" width="16.2" height="8.7" fill="#A6032C"/>
<rect x="321.9" y="753.1" width="16.2" height="8.8" fill="#2D4A80"/>
<text transform="translate(342,742) scale(0.88,1)" font-size="11.5" stroke-width="0.28" textLength="35.88" lengthAdjust="spacing">IgG Ab</text>
<text transform="translate(342,761.7) scale(0.84,1)" font-size="11.7" stroke-width="0.28" textLength="58.17" lengthAdjust="spacing">NFATc1 Ab</text>
<text transform="translate(22.8,783.8) rotate(-90) scale(1,1)" font-size="13.4" stroke-width="0.24" textLength="98.04" lengthAdjust="spacing">Fold enrichment</text>
<text transform="translate(12.7,627.7) scale(0.84,1)" font-size="16.2" stroke-width="0.24" textLength="11.94" lengthAdjust="spacing">C</text>
<defs><filter id="bl" x="-20%" y="-40%" width="140%" height="180%"><feGaussianBlur stdDeviation="0.6"/></filter><filter id="bl2" x="-20%" y="-40%" width="140%" height="180%"><feGaussianBlur stdDeviation="1.3"/></filter><linearGradient id="gA" x1="0" x2="1" y1="0" y2="0"><stop offset="0" stop-color="#1e1e1e"/><stop offset="0.55" stop-color="#3a3a3a"/><stop offset="1" stop-color="#7a7a7a"/></linearGradient><linearGradient id="gB" x1="0" x2="1" y1="0" y2="0"><stop offset="0" stop-color="#9a9a9a"/><stop offset="1" stop-color="#c8c8c8"/></linearGradient><linearGradient id="gC" x1="0" x2="1" y1="0" y2="0"><stop offset="0" stop-color="#1a1a1a"/><stop offset="0.4" stop-color="#6a6a6a"/><stop offset="1" stop-color="#9a9a9a"/></linearGradient></defs>
<rect x="196.5" y="378.2" width="52.4" height="29.2" fill="#1a1a1a"/>
<rect x="197.9" y="379.6" width="49.6" height="26.4" fill="#fbfbfb"/>
<rect x="198.7" y="380.4" width="48" height="24.8" fill="#ededed"/>
<rect x="196.6" y="409.1" width="52.3" height="15.7" fill="#1a1a1a"/>
<rect x="198" y="410.5" width="49.5" height="12.9" fill="#fbfbfb"/>
<rect x="198.8" y="411.3" width="47.9" height="11.3" fill="#f0f0f0"/>
<rect x="196.6" y="427" width="52.3" height="13" fill="#1a1a1a"/>
<rect x="198" y="428.4" width="49.5" height="10.2" fill="#fbfbfb"/>
<rect x="198.8" y="429.2" width="47.9" height="8.6" fill="#f2f2f2"/>
<g filter="url(#bl2)">
<rect x="199.5" y="381.5" width="20" height="23" rx="4" ry="11.5" fill="#d2d2d2" opacity="1"/>
<rect x="199.5" y="382" width="18.5" height="5.8" rx="4" ry="2.9" fill="url(#gB)" opacity="1"/>
<rect x="199.5" y="389.3" width="19.5" height="3.9" rx="4" ry="1.95" fill="#bcbcbc" opacity="1"/>
</g><g filter="url(#bl)">
<rect x="199.3" y="394.6" width="20.2" height="2.3" rx="4" ry="1.15" fill="url(#gA)" opacity="1"/>
<rect x="199.5" y="397.7" width="11.1" height="5.9" rx="4" ry="2.95" fill="#161616" opacity="1"/>
<rect x="210.2" y="398.3" width="8.4" height="4.7" rx="4" ry="2.35" fill="#3e3e3e" opacity="1"/>
<rect x="199.3" y="414" width="21.2" height="3.5" rx="4" ry="1.75" fill="#7a7a7a" opacity="1"/>
<rect x="199.3" y="410.8" width="21.2" height="4.2" rx="4" ry="2.1" fill="#1c1c1c" opacity="1"/>
<rect x="198.8" y="416.6" width="22.4" height="5" rx="4" ry="2.5" fill="#080808" opacity="1"/>
<rect x="226.5" y="411.8" width="18.3" height="3.4" rx="4" ry="1.7" fill="#9a9a9a" opacity="1"/>
<rect x="225.8" y="418.4" width="19.2" height="3.4" rx="4" ry="1.7" fill="url(#gC)" opacity="1"/>
<rect x="198.8" y="430" width="22" height="5.9" rx="4" ry="2.95" fill="#050505" opacity="1"/>
<rect x="224.8" y="430.9" width="21.9" height="6" rx="4" ry="3" fill="#050505" opacity="1"/>
</g>
<rect x="456.8" y="378.2" width="52.1" height="26.4" fill="#1a1a1a"/>
<rect x="458.2" y="379.6" width="49.3" height="23.6" fill="#fbfbfb"/>
<rect x="459" y="380.4" width="47.7" height="22" fill="#ececec"/>
<rect x="457.1" y="407.3" width="51.8" height="15.6" fill="#1a1a1a"/>
<rect x="458.5" y="408.7" width="49" height="12.8" fill="#fbfbfb"/>
<rect x="459.3" y="409.5" width="47.4" height="11.2" fill="#efefef"/>
<rect x="458.2" y="425" width="50.7" height="11" fill="#1a1a1a"/>
<rect x="459.6" y="426.4" width="47.9" height="8.2" fill="#fbfbfb"/>
<rect x="460.4" y="427.2" width="46.3" height="6.6" fill="#f2f2f2"/>
<g filter="url(#bl2)">
<rect x="460.7" y="381.5" width="20.1" height="21.5" rx="4" ry="10.75" fill="#b8b8b8" opacity="1"/>
<rect x="485.2" y="381.5" width="18.8" height="20.5" rx="4" ry="10.25" fill="#e2e2e2" opacity="1"/>
</g><g filter="url(#bl)">
<rect x="460.7" y="382.5" width="20.1" height="2.5" rx="4" ry="1.25" fill="#707070" opacity="1"/>
<rect x="460.7" y="385" width="20.1" height="4.4" rx="4" ry="2.2" fill="#8c8c8c" opacity="1"/>
<rect x="460.7" y="388.6" width="20.1" height="13.6" rx="4" ry="6.8" fill="#4a4a4a" opacity="1"/>
<rect x="460.9" y="391.4" width="19.9" height="4.2" rx="4" ry="2.1" fill="#060606" opacity="1"/>
<rect x="460.9" y="395.8" width="19.7" height="5.8" rx="4" ry="2.9" fill="#202020" opacity="1"/>
<rect x="485.2" y="382.8" width="18.4" height="2" rx="4" ry="1" fill="#a8a8a8" opacity="1"/>
<rect x="485.2" y="392" width="18.4" height="2.8" rx="4" ry="1.4" fill="#626262" opacity="1"/>
<rect x="485.2" y="397.4" width="18.4" height="2" rx="4" ry="1" fill="#cacaca" opacity="1"/>
<rect x="459.6" y="409.8" width="21.4" height="11.1" rx="4" ry="5.55" fill="#0c0c0c" opacity="1"/>
<rect x="485" y="410.6" width="20" height="3" rx="4" ry="1.5" fill="#7e7e7e" opacity="1"/>
<rect x="485.5" y="416.5" width="20.5" height="3.8" rx="4" ry="1.9" fill="#101010" opacity="1"/>
<rect x="461" y="428.5" width="21" height="4.3" rx="4" ry="2.15" fill="#060606" opacity="1"/>
<rect x="486.2" y="428.2" width="19.8" height="4.6" rx="4" ry="2.3" fill="#060606" opacity="1"/>
<rect x="496.5" y="429.6" width="9.5" height="4" rx="4" ry="2" fill="#060606" opacity="1"/>
</g>
<text transform="translate(160.5,396.4) scale(0.86,1)" font-size="10.6" stroke-width="0.38" textLength="37.07" lengthAdjust="spacing">NFATc1</text>
<text transform="translate(160.5,418.8) scale(0.87,1)" font-size="10.6" stroke-width="0.38" textLength="38.07" lengthAdjust="spacing">pSTAT3</text>
<text transform="translate(157.3,435.5) scale(0.91,1)" font-size="10.6" stroke-width="0.38" textLength="39.68" lengthAdjust="spacing">Lamin B</text>
<text transform="translate(416.5,395) scale(0.86,1)" font-size="10.6" stroke-width="0.38" textLength="37.07" lengthAdjust="spacing">NFATc1</text>
<text transform="translate(416.2,417.8) scale(0.87,1)" font-size="10.6" stroke-width="0.38" textLength="38.07" lengthAdjust="spacing">pSTAT3</text>
<text transform="translate(414.2,435.5) scale(0.92,1)" font-size="10.6" stroke-width="0.38" textLength="39.68" lengthAdjust="spacing">Lamin B</text>
<text transform="translate(213.3,375.5) rotate(-90) scale(0.88,1)" font-size="11" stroke-width="0.28" textLength="65.5" lengthAdjust="spacing">Cont. shRNA</text>
<text transform="translate(239.7,375.5) rotate(-90) scale(0.86,1)" font-size="11" stroke-width="0.28" textLength="77.14" lengthAdjust="spacing">NFATc1 shRNA</text>
<text transform="translate(474.8,375.7) rotate(-90) scale(0.89,1)" font-size="11" stroke-width="0.28" textLength="65.5" lengthAdjust="spacing">Cont. shRNA</text>
<text transform="translate(500.7,375.7) rotate(-90) scale(0.86,1)" font-size="11" stroke-width="0.28" textLength="77.14" lengthAdjust="spacing">NFATc1 shRNA</text>
<g shape-rendering="crispEdges"><rect x="0" y="0" width="520" height="1" fill="#5a5a5a"/><rect x="0" y="1" width="520" height="1" fill="#0e0e0e"/><rect x="0" y="884" width="520" height="1" fill="#2e2e2e"/><rect x="0" y="883" width="520" height="1" fill="#1c1c1c"/><rect x="0" y="0" width="1" height="885" fill="#2e2e2e"/><rect x="1" y="1" width="1" height="883" fill="#1e1e1e"/><rect x="519" y="0" width="1" height="885" fill="#000000"/><rect x="518" y="1" width="1" height="883" fill="#444444"/></g>
</svg>
</body></html>
